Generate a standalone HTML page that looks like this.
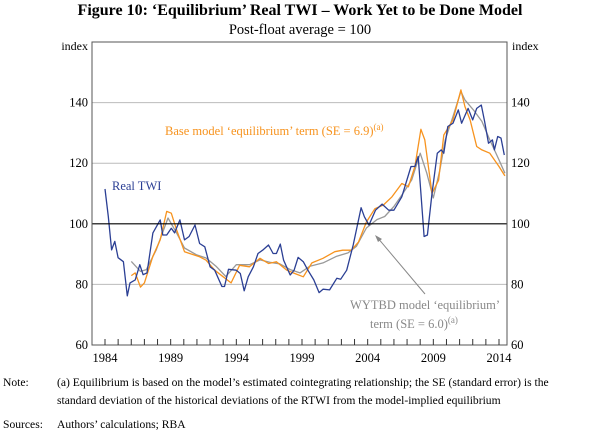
<!DOCTYPE html>
<html><head><meta charset="utf-8"><style>
body{margin:0;background:#fff;}
svg text{font-family:"Liberation Serif",serif;}
</style></head><body>
<svg id="c" width="600" height="436" xmlns="http://www.w3.org/2000/svg">
<text x="300" y="15" text-anchor="middle" font-size="16" font-weight="bold">Figure 10: ‘Equilibrium’ Real TWI – Work Yet to be Done Model</text>
<text x="300" y="34" text-anchor="middle" font-size="14.5">Post-float average = 100</text>
<text x="88" y="50" text-anchor="end" font-size="12">index</text>
<text x="512" y="50" font-size="12">index</text>
<g id="grid"></g><g id="series"></g><g id="axes"></g>
<text x="165" y="135" font-size="12.5" fill="#f7931e">Base model ‘equilibrium’ term (SE = 6.9)<tspan font-size="9" dy="-5">(a)</tspan></text>
<text x="112" y="190" font-size="12.5" fill="#2b3f94">Real TWI</text>
<text x="500" y="309" text-anchor="end" font-size="12.5" fill="#888">WYTBD model ‘equilibrium’</text>
<text x="370" y="328" font-size="12.5" fill="#888">term (SE = 6.0)<tspan font-size="9" dy="-5">(a)</tspan></text>
<line x1="425" y1="294" x2="377" y2="237" stroke="#888" stroke-width="1"/>
<polygon points="375,235 382,239 378,242" fill="#888"/>
<text x="3" y="386" font-size="11.6">Note:</text>
<text x="57" y="386" font-size="11.6">(a) Equilibrium is based on the model’s estimated cointegrating relationship; the SE (standard error) is the</text>
<text x="57" y="404" font-size="11.6">standard deviation of the historical deviations of the RTWI from the model-implied equilibrium</text>
<text x="3" y="428" font-size="11.6">Sources:</text>
<text x="57" y="428" font-size="11.6">Authors’ calculations; RBA</text>
</svg>
<script>
const yTicks=[60,80,100,120,140];
const xTickLabels=[1984,1989,1994,1999,2004,2009,2014];
const twiX=[1984.0,1984.25,1984.5,1984.75,1985,1985.4,1985.7,1985.9,1986.3,1986.65,1986.9,1987.2,1987.65,1988.2,1988.4,1988.7,1989.05,1989.3,1989.7,1990.05,1990.4,1990.85,1991.2,1991.6,1992,1992.35,1992.9,1993.1,1993.4,1994.0,1994.3,1994.6,1994.9,1995.3,1995.65,1996,1996.45,1996.8,1997.05,1997.35,1997.6,1998.1,1998.4,1998.7,1999.1,1999.45,1999.9,2000.3,2000.6,2001.1,2001.65,2001.95,2002.4,2002.9,2003.5,2003.75,2004.1,2004.6,2005.1,2005.6,2006,2006.6,2007.3,2007.6,2007.85,2008.3,2008.55,2008.9,2009.3,2009.6,2009.8,2010.1,2010.5,2010.9,2011.15,2011.65,2012,2012.3,2012.65,2012.9,2013.2,2013.5,2013.65,2013.9,2014.15,2014.4];
const twiY=[111.5,102.4,91.4,94.2,88.8,87.5,76.2,80.5,81.5,86.5,83.2,83.8,97,101.3,96.3,96.3,98.5,97,101.3,94.7,95.8,99.6,93.5,92.4,85.8,84.7,79.3,79.3,85,84.7,83.6,77.9,82.5,85.8,90.2,91.3,93,90.2,90.2,93.3,88,83.1,84.7,88.9,87.5,84.7,81.5,77.3,78.4,78.2,82,81.7,84.7,93,105.3,102.3,99.6,104.5,106.5,104.5,104.5,108.9,118.9,118.9,122.2,95.8,96.3,110,123.3,124.4,123.3,132.1,133.2,137.6,133.2,138.1,134.3,138.1,139.2,133.8,126.6,127.7,124.4,128.8,128.3,122.7];
const baseX=[1986.0,1986.3,1986.7,1987.0,1987.65,1988.2,1988.7,1989.05,1989.45,1990.05,1990.45,1991.2,1991.7,1992.35,1993,1993.6,1994.25,1995,1995.8,1996.45,1997.05,1997.85,1998.45,1999.1,1999.75,2000.6,2001.5,2002.1,2002.75,2003.3,2003.9,2004.55,2005.2,2005.85,2006.6,2007.1,2007.6,2008.05,2008.35,2008.9,2009.4,2009.8,2010.5,2011.1,2011.4,2011.8,2012.3,2012.7,2013.3,2014,2014.45];
const baseY=[82.9,83.8,79.1,80.5,89.3,94.7,104.1,103.5,98,90.8,90.2,89.1,88,84.7,82.5,80.5,86.3,85.8,88.6,86.9,87.5,84.7,83.6,82.5,87.1,88.6,90.8,91.3,91.3,94,100.6,105,106.2,108.9,113.3,112.2,118.9,131.2,127.7,110,114.4,129.3,134.3,144.2,138.7,134.3,125.5,124.4,123.3,118.9,115.8];
const wytX=[1986.0,1986.7,1987.15,1987.9,1988.8,1989.45,1990.05,1990.95,1991.7,1992.45,1993.2,1994,1995,1995.8,1996.55,1997.3,1998.1,1998.85,1999.6,2000.6,2001.65,2002.5,2003.15,2003.9,2004.7,2005.3,2006,2006.7,2007.35,2008,2008.5,2009,2009.5,2009.9,2010.5,2011.1,2011.4,2012.05,2012.7,2013.3,2014,2014.45];
const wytY=[87.6,84.3,84.9,91.4,101.9,97,92,89.8,88.7,86,82.6,86.5,86.5,88.1,87.3,86.8,84.9,83.8,86,87.1,89.3,90.4,92.6,98.6,101.4,102.4,105.7,110.1,114.5,123.3,116.7,108.5,117.8,127.7,135.4,143.7,140.9,137.6,133.8,127.7,121.1,116.7];

const L=92,R=507,T=42,B=345;
const X0=1984,XL=105,XR=499;
function sx(v){return XL+(v-X0)*(XR-XL)/30;}
function sy(v){return B-(v-60)*(B-T)/100;}
const NS="http://www.w3.org/2000/svg";
function mk(tag,attrs,parent){const e=document.createElementNS(NS,tag);for(const k in attrs)e.setAttribute(k,attrs[k]);parent.appendChild(e);return e;}
const grid=document.getElementById('grid'),axes=document.getElementById('axes'),ser=document.getElementById('series');
yTicks.forEach(v=>{
  if(v>60){const g=mk('line',{x1:L,x2:R,y1:sy(v),y2:sy(v),stroke:v===100?'#000':'#bbb','stroke-width':v===100?1.2:1},v===100?axes:grid);
  
  }
  const t1=mk('text',{x:L-4,y:sy(v)+4,'text-anchor':'end','font-size':12.5},axes);t1.textContent=v;
  
  
  const t2=mk('text',{x:R+4,y:sy(v)+4,'font-size':12.5},axes);t2.textContent=v;
  
  
});
const fr=mk('rect',{x:L,y:T,width:R-L,height:B-T,fill:'none',stroke:'#555','stroke-width':1},axes);


for(let yr=1984;yr<=2014;yr++){
  const tk=mk('line',{x1:sx(yr),x2:sx(yr),y1:B,y2:B-6,stroke:'#333','stroke-width':1},axes);
  
  
}
xTickLabels.forEach(yr=>{
  const t=mk('text',{x:sx(yr),y:362,'text-anchor':'middle','font-size':12.5},axes);t.textContent=yr;
  
  
});
function line(xs,ys,color,name){
  const d=xs.map((x,i)=>(i?'L':'M')+sx(x).toFixed(1)+','+sy(ys[i]).toFixed(1)).join('');
  const p=mk('path',{d:d,fill:'none',stroke:color,'stroke-width':1.3,'stroke-linejoin':'round'},ser);
  
  
}
line(wytX,wytY,'#999','wytbd-equilibrium-line');
line(baseX,baseY,'#f7931e','base-equilibrium-line');
line(twiX,twiY,'#2b3f94','real-twi-line');
</script>
</body></html>
